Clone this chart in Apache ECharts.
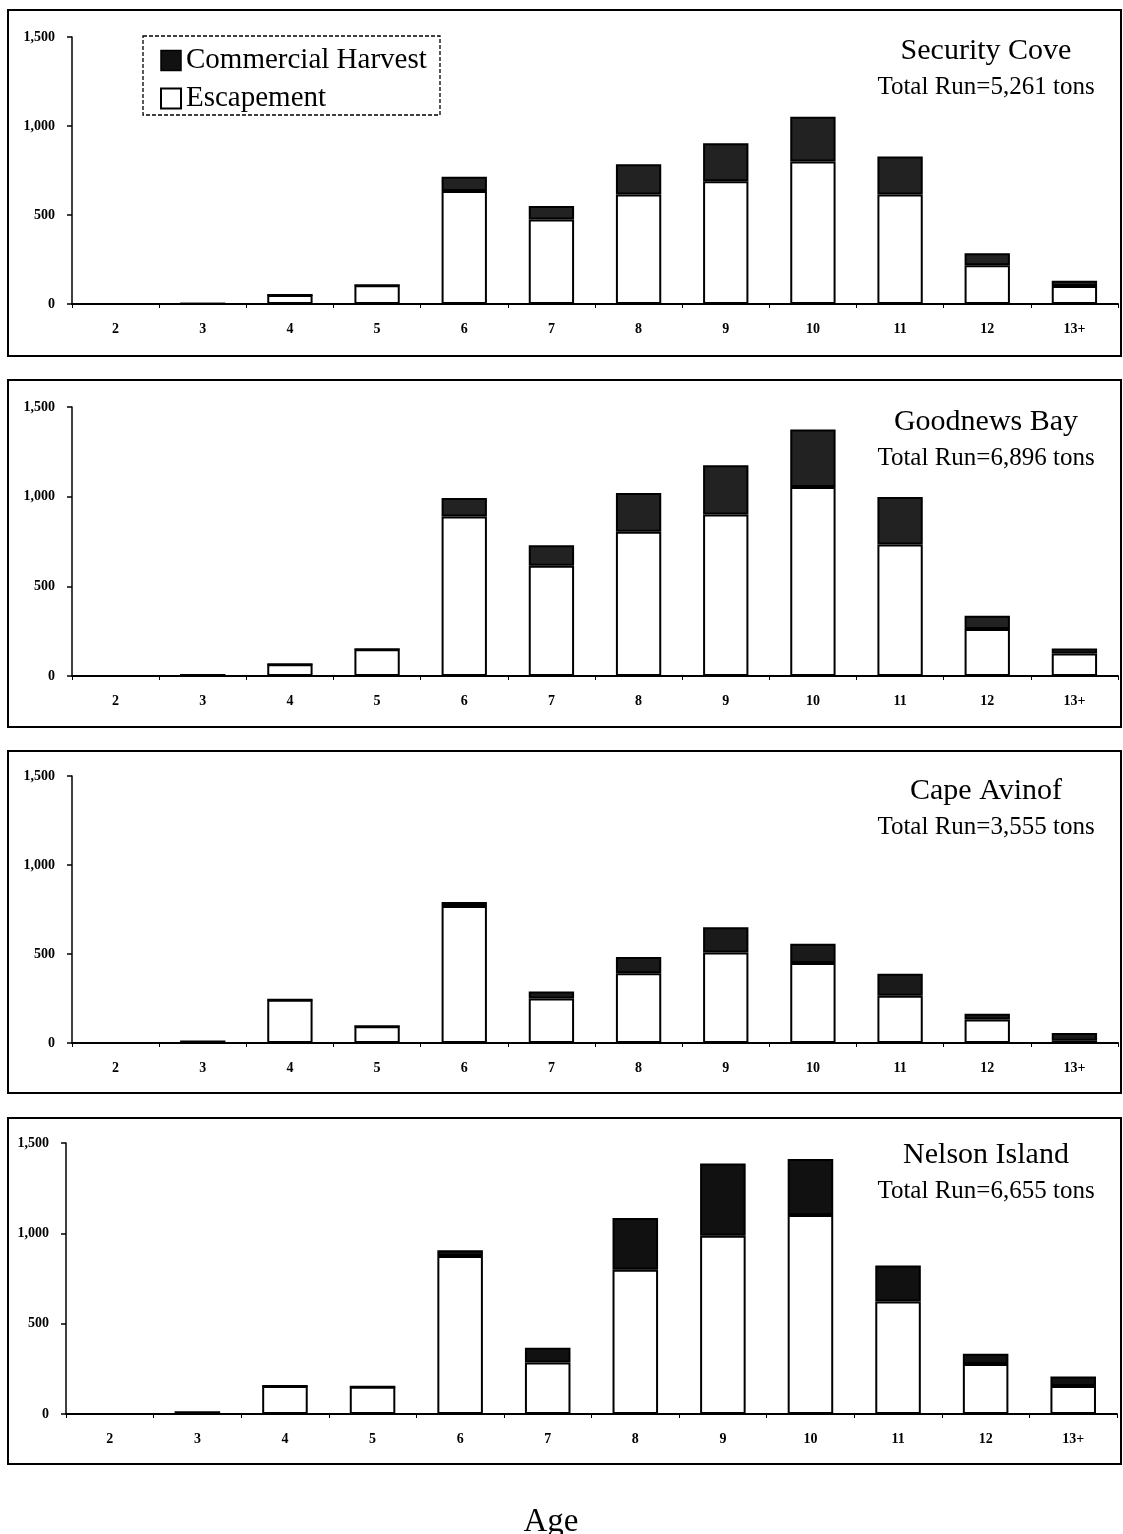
<!DOCTYPE html>
<html>
<head>
<meta charset="utf-8">
<style>
html,body{margin:0;padding:0;background:#fff;}
#chart{width:1123px;height:1534px;}
</style>
<script src="https://cdn.jsdelivr.net/npm/echarts@6/dist/echarts.min.js"></script>
</head>
<body>
<div id="chart"></div>
<script>
// ---- data ----
var ages = ['2','3','4','5','6','7','8','9','10','11','12','13+'];
var yTicks = [0, 500, 1000, 1500];
var sites = ['Security Cove', 'Goodnews Bay', 'Cape Avinof', 'Nelson Island'];
var totals = ['Total Run=5,261 tons', 'Total Run=6,896 tons', 'Total Run=3,555 tons', 'Total Run=6,655 tons'];

var escSecurity = [0, 2, 50, 105, 635, 475, 615, 690, 800, 615, 218, 101];
var harvSecurity = [0, 0, 0, 0, 80, 75, 170, 213, 252, 214, 67, 29];

var escGoodnews = [0, 5, 65, 149, 890, 615, 804, 900, 1054, 733, 262, 126];
var harvGoodnews = [0, 0, 0, 0, 103, 114, 217, 275, 321, 265, 74, 28];

var escAvinof = [0, 8, 243, 94, 770, 250, 392, 509, 449, 266, 132, 12];
var harvAvinof = [0, 0, 0, 0, 22, 40, 91, 141, 109, 123, 33, 44];

var escNelson = [0, 10, 155, 151, 875, 285, 798, 987, 1101, 623, 277, 155];
var harvNelson = [0, 0, 0, 0, 32, 82, 287, 399, 311, 199, 56, 52];

var escAll = [escSecurity, escGoodnews, escAvinof, escNelson];
var harvAll = [harvSecurity, harvGoodnews, harvAvinof, harvNelson];

// ---- layout ----
var grids = [
  {left: 72, top: 37, width: 1046, height: 267},
  {left: 72, top: 407, width: 1046, height: 269},
  {left: 72, top: 776, width: 1046, height: 267},
  {left: 66, top: 1143, width: 1051, height: 271}
];
var titleCenters = [[47, 83], [418, 454], [787, 823], [1151, 1187]];
var boxes = [
  {y: 10, h: 346},
  {y: 380, h: 347},
  {y: 751, h: 342},
  {y: 1118, h: 346}
];
var harvColors = ['#222222', '#222222', '#1a1a1a', '#111111'];
var serif = "'Liberation Serif', 'DejaVu Serif', serif";

var xAxes = [], yAxes = [], series = [], titles = [], graphics = [];
for (var i = 0; i < 4; i++) {
  xAxes.push({
    type: 'category', gridIndex: i, data: ages,
    axisLine: {show: true, lineStyle: {color: '#000', width: 2}},
    axisTick: {show: true, alignWithLabel: false, interval: 0, length: 4, lineStyle: {color: '#000', width: 1}},
    axisLabel: {color: '#000', fontFamily: serif, fontWeight: 'bold', fontSize: 14, margin: 18, interval: 0},
    splitLine: {show: false}
  });
  yAxes.push({
    type: 'value', gridIndex: i, min: yTicks[0], max: yTicks[yTicks.length - 1], interval: yTicks[1] - yTicks[0],
    axisLine: {show: true, lineStyle: {color: '#000', width: 1.5}},
    axisTick: {show: true, length: 5, lineStyle: {color: '#000', width: 1.5}},
    axisLabel: {color: '#000', fontFamily: serif, fontWeight: 'bold', fontSize: 14, margin: 17,
      formatter: function (v) { return v.toLocaleString('en-US'); }},
    splitLine: {show: false}
  });
  series.push({
    name: 'Escapement', type: 'bar', stack: 'p' + i, xAxisIndex: i, yAxisIndex: i,
    barWidth: '52%', data: escAll[i],
    itemStyle: {color: '#fff', borderColor: '#000', borderWidth: 2},
    emphasis: {disabled: true}
  });
  series.push({
    name: 'Commercial Harvest', type: 'bar', stack: 'p' + i, xAxisIndex: i, yAxisIndex: i,
    barWidth: '52%', data: harvAll[i],
    itemStyle: {color: harvColors[i], borderColor: '#000', borderWidth: 2},
    emphasis: {disabled: true}
  });
  titles.push({
    text: sites[i], left: 981, top: titleCenters[i][0] - 16, textAlign: 'center',
    textStyle: {fontFamily: serif, fontWeight: 'normal', fontSize: 30, color: '#000'}
  });
  titles.push({
    text: totals[i], left: 981, top: titleCenters[i][1] - 13, textAlign: 'center',
    textStyle: {fontFamily: serif, fontWeight: 'normal', fontSize: 25, color: '#000'}
  });
  graphics.push({
    type: 'rect', shape: {x: 8, y: boxes[i].y, width: 1113, height: boxes[i].h},
    style: {fill: 'none', stroke: '#000', lineWidth: 2}, silent: true
  });
}
titles.push({
  text: 'Age', left: 546, top: 1501, textAlign: 'center',
  textStyle: {fontFamily: serif, fontWeight: 'normal', fontSize: 33, color: '#000'}
});
graphics.push({
  type: 'rect', shape: {x: 143, y: 36, width: 297, height: 79},
  style: {fill: 'none', stroke: '#000', lineWidth: 1.3, lineDash: [4, 2]}, silent: true
});

var chart = echarts.init(document.getElementById('chart'), null, {renderer: 'canvas'});
chart.setOption({
  animation: false,
  backgroundColor: '#fff',
  title: titles,
  legend: {
    orient: 'vertical', left: 155, top: 41, itemWidth: 20, itemHeight: 20, itemGap: 9,
    icon: 'rect',
    textStyle: {fontFamily: serif, fontSize: 29, color: '#000'},
    data: [
      {name: 'Commercial Harvest', itemStyle: {color: '#111', borderColor: '#000', borderWidth: 1.5}},
      {name: 'Escapement', itemStyle: {color: '#fff', borderColor: '#000', borderWidth: 2}}
    ],
    selectedMode: false
  },
  grid: grids,
  xAxis: xAxes,
  yAxis: yAxes,
  series: series,
  graphic: graphics
});
</script>
</body>
</html>
